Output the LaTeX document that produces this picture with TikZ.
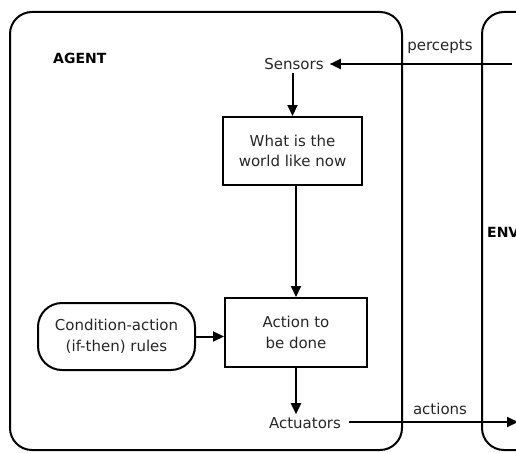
\documentclass[tikz,border=0pt]{standalone}
\usepackage{fontspec}
\setmainfont{DejaVu Sans}
\usetikzlibrary{arrows.meta}
\begin{document}
\begin{tikzpicture}[x=1pt,y=-1pt,
  font=\fontsize{15}{20.5}\selectfont,
  txt/.style={text=black!85, inner sep=3pt},
  procbox/.style={draw, line width=2pt, align=center, text=black!85, inner sep=0pt},
  rulebox/.style={procbox, rounded corners=24pt},
  frame/.style={draw, line width=2pt, rounded corners=22pt},
  flow/.style={line width=2pt, -{Triangle[length=11pt,width=10pt]}},
  heading/.style={text=black, font=\fontsize{14}{16}\selectfont\bfseries, inner sep=0pt}]
\useasboundingbox (0,0) rectangle (516,452);
\clip (0,0) rectangle (516,452);

% agent and environment frames
\draw[frame] (10,12) rectangle (402,450);
\draw[frame] (482,12) rectangle (720,450);

\node[heading, anchor=west] (agent) at (53,58) {AGENT};
\node[heading, anchor=west] (env) at (487,232) {ENV};

% components of the agent
\node[txt] (sensors) at (294,64) {Sensors};
\node[procbox, minimum width=139pt, minimum height=68pt] (world) at (292.5,151) {What is the\\world like now};
\node[procbox, minimum width=142pt, minimum height=69pt] (action) at (296,332.5) {Action to\\be done};
\node[rulebox, minimum width=157pt, minimum height=67pt] (rules) at (116.5,336.5) {Condition-action\\(if-then) rules};
\node[txt] (actuators) at (305,423) {Actuators};

% inner flow
\draw[flow] (sensors.south -| world.north) -- (world.north);
\draw[flow] (world.south -| action.north) -- (action.north);
\draw[flow] (rules.east) -- (rules.east -| action.west);
\draw[flow] (action.south) -- (action.south |- actuators.north);

% exchange with the environment
\coordinate (pin) at (512,64);
\coordinate (aout) at (518,422);
\draw[flow, shorten >=3pt] (pin) -- (sensors.east);
\draw[flow, shorten <=5pt] (actuators.east |- aout) -- (aout);
\node[txt] (percepts) at (440,47) {percepts};
\node[txt] (actions) at (440,409) {actions};
\end{tikzpicture}
\end{document}
